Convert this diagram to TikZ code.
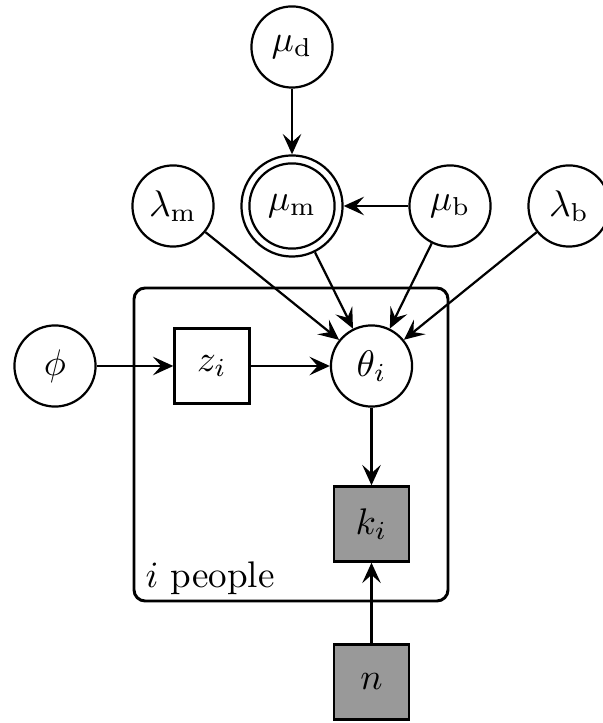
\documentclass[tikz,border=0pt]{standalone}
\usetikzlibrary{arrows.meta}
\definecolor{obsgray}{RGB}{153,153,153}
\begin{document}
\begin{tikzpicture}[x=0.27pt,y=-0.27pt,
  var/.style={circle,draw,line width=0.6pt,minimum size=21.9pt,inner sep=0pt},
  boxvar/.style={rectangle,draw,line width=0.6pt,minimum size=20.3pt,inner sep=0pt},
  obs/.style={boxvar,fill=obsgray},
  edge/.style={line width=0.6pt,-{Stealth[length=5.5pt,width=5pt,inset=2.2pt]}},
  plate/.style={draw,line width=0.8pt,rounded corners=3pt}]
\useasboundingbox (0,0) rectangle (603,723);
% plate
\node[plate,minimum width=314*0.27pt,minimum height=313*0.27pt,inner sep=0pt] (pl) at (291,444.5) {};
\node[anchor=base west,inner sep=0pt] (lab) at (145,587) {$i$ people};
% nodes
\node[var] (md) at (292,47) {$\mu_\mathrm{d}$};
\node[circle,draw,line width=0.6pt,minimum size=27.3pt,inner sep=0pt] (mm) at (292,206) {$\mu_\mathrm{m}$};
\draw[line width=0.6pt] (mm.center) circle (11.5pt);
\node[var] (lm) at (173,206) {$\lambda_\mathrm{m}$};
\node[var] (mb) at (450,206) {$\mu_\mathrm{b}$};
\node[var] (lb) at (569,206) {$\lambda_\mathrm{b}$};
\node[var] (phi) at (55,366) {$\phi$};
\node[boxvar] (z) at (212,366) {$z_i$};
\node[var] (th) at (371.5,366) {$\theta_i$};
\node[obs] (k) at (371.5,524) {$k_i$};
\node[obs] (n) at (371.5,682) {$n$};
% edges
\draw[edge] (md) -- (mm);
\draw[edge] (mb) -- (mm);
\draw[edge] (lm) -- (th);
\draw[edge] (mm) -- (th);
\draw[edge] (mb) -- (th);
\draw[edge] (lb) -- (th);
\draw[edge] (phi) -- (z);
\draw[edge] (z) -- (th);
\draw[edge] (th) -- (k);
\draw[edge] (n) -- (k);
\end{tikzpicture}
\end{document}
